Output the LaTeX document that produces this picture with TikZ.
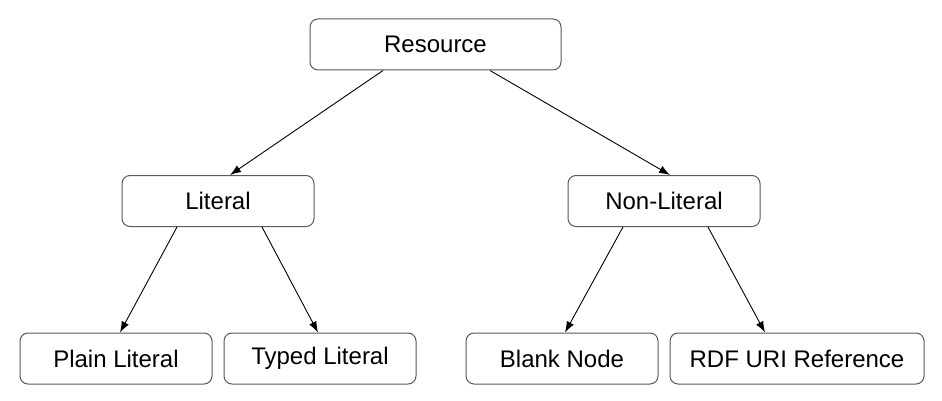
\documentclass[tikz,border=0pt]{standalone}
\usepackage{fontspec}
\setmainfont{Liberation Sans}
\usetikzlibrary{arrows.meta,calc,positioning}

\tikzset{
  box/.style={draw=black!65, line width=1pt, rounded corners=8pt, fill=white,
    minimum width=192pt, minimum height=51pt, inner sep=0pt,
    font=\fontsize{24}{28}\selectfont},
  link/.style={-{Latex[length=11pt,width=8pt]}, line width=0.9pt, black}
}

\begin{document}
\begin{tikzpicture}[x=1pt,y=-1pt]
    \useasboundingbox (0,0) rectangle (942,401);
    \node[box, minimum width=251pt] (res) at (435.5,44.5) {Resource};
    \node[box] (lit) at (218,201) {Literal};
    \node[box] (nonlit) at (664,201) {Non-Literal};
    \node[box] (plain) at (116,358.5) {Plain Literal};
    \node[box] (typed) at (320,358.5) {Typed Literal};
    \node[box] (blank) at (562,358.5) {Blank Node};
    \node[box, minimum width=254pt] (rdfuri) at (797,358.5) {RDF URI Reference};
%   top level
    \draw[link] ([xshift=-52.5pt]res.south) -- ([xshift=12pt]lit.north);
    \draw[link] ([xshift=54.5pt]res.south) -- ([xshift=6pt]nonlit.north);
%   second level
    \draw[link] ([xshift=-41pt]lit.south) -- ([xshift=4pt]plain.north);
    \draw[link] ([xshift=44pt]lit.south) -- ([xshift=-2pt]typed.north);
    \draw[link] ([xshift=-41pt]nonlit.south) -- ([xshift=3pt]blank.north);
    \draw[link] ([xshift=44pt]nonlit.south) -- ([xshift=-32pt]rdfuri.north);
\end{tikzpicture}
\end{document}
